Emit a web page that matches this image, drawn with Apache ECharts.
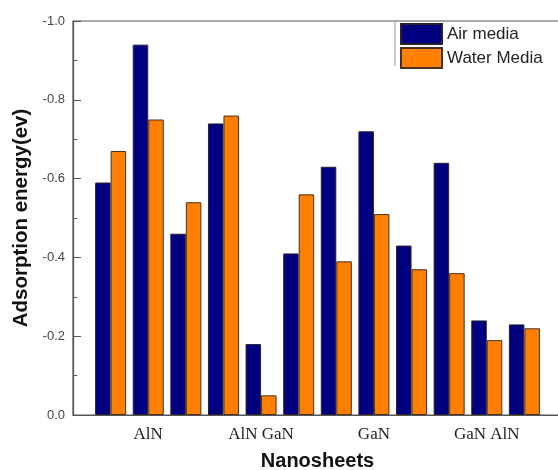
<!DOCTYPE html>
<html>
<head>
<meta charset="utf-8">
<script src="https://cdn.jsdelivr.net/npm/echarts@6/dist/echarts.min.js"></script>
<style>html,body{margin:0;padding:0;background:#fff}#c{width:558px;height:470px}</style>
</head>
<body>
<div id="c"></div>
<script>
// 12 bar groups; labels shown only under certain groups
const categories = ['', 'AlN', '', '', 'AlN GaN', '', '', 'GaN', '', '', 'GaN AlN', ''];
const airMedia   = [-0.59, -0.94, -0.46, -0.74, -0.18, -0.41, -0.63, -0.72, -0.43, -0.64, -0.24, -0.23];
const waterMedia = [-0.67, -0.75, -0.54, -0.76, -0.05, -0.56, -0.39, -0.51, -0.37, -0.36, -0.19, -0.22];
const seriesNames = ['Air media', 'Water Media'];

// pad one empty slot at each end so groups sit one band in from the axes
const xCats = [' '].concat(categories, ['  ']);
const pad = a => [null].concat(a, [null]);

const chart = echarts.init(document.getElementById('c'), null, {renderer: 'canvas'});
chart.setOption({
  backgroundColor: '#ffffff',
  animation: false,
  grid: {left: 73, right: -4, top: 21, bottom: 55, outerBoundsMode: 'none', containLabel: false,
         show: true, borderColor: '#555', borderWidth: 1.2, backgroundColor: 'transparent'},
  legend: {
    orient: 'vertical', left: 400, top: 23, padding: 0, itemWidth: 41, itemHeight: 20, itemGap: 2,
    icon: 'rect',
    textStyle: {fontFamily: 'Liberation Sans', fontSize: 17, color: '#222'},
    data: seriesNames
  },
  xAxis: {
    type: 'category', data: xCats, boundaryGap: false,
    axisLine: {lineStyle: {color: '#555', width: 1.2}},
    axisTick: {show: false},
    axisLabel: {interval: 0, margin: 11, fontFamily: 'Liberation Serif', fontSize: 17, color: '#222'},
    name: 'Nanosheets', nameLocation: 'middle', nameGap: 36,
    nameTextStyle: {fontFamily: 'Liberation Sans', fontWeight: 'bold', fontSize: 20, color: '#111'}
  },
  yAxis: {
    type: 'value', min: -1.0, max: 0, interval: 0.2, inverse: true,
    axisLine: {show: true, lineStyle: {color: '#555', width: 1.2}},
    axisTick: {show: true, inside: true, length: 8, lineStyle: {color: '#555'}},
    minorTick: {show: true, splitNumber: 2, length: 4, lineStyle: {color: '#555'}},
    splitLine: {show: false},
    axisLabel: {margin: 8, fontFamily: 'Liberation Sans', fontSize: 13, color: '#444',
      formatter: v => (Math.abs(v) < 1e-9 ? 0 : v).toFixed(1)},
    name: 'Adsorption energy(ev)', nameLocation: 'middle', nameGap: 37,
    nameTextStyle: {fontFamily: 'Liberation Sans', fontWeight: 'bold', fontSize: 20.5, color: '#111'}
  },
  graphic: [{
    type: 'line', shape: {x1: 395, y1: 22, x2: 395, y2: 66},
    style: {stroke: '#999', lineWidth: 1}
  }],
  series: [
    {name: seriesNames[0], type: 'bar', data: pad(airMedia), barWidth: 15.5, barGap: '0%',
     itemStyle: {color: '#000080', borderColor: '#2a2030', borderWidth: 1}},
    {name: seriesNames[1], type: 'bar', data: pad(waterMedia), barWidth: 15.5, barGap: '0%',
     itemStyle: {color: '#FF8000', borderColor: '#4a3020', borderWidth: 1}}
  ]
});
</script>
</body>
</html>
